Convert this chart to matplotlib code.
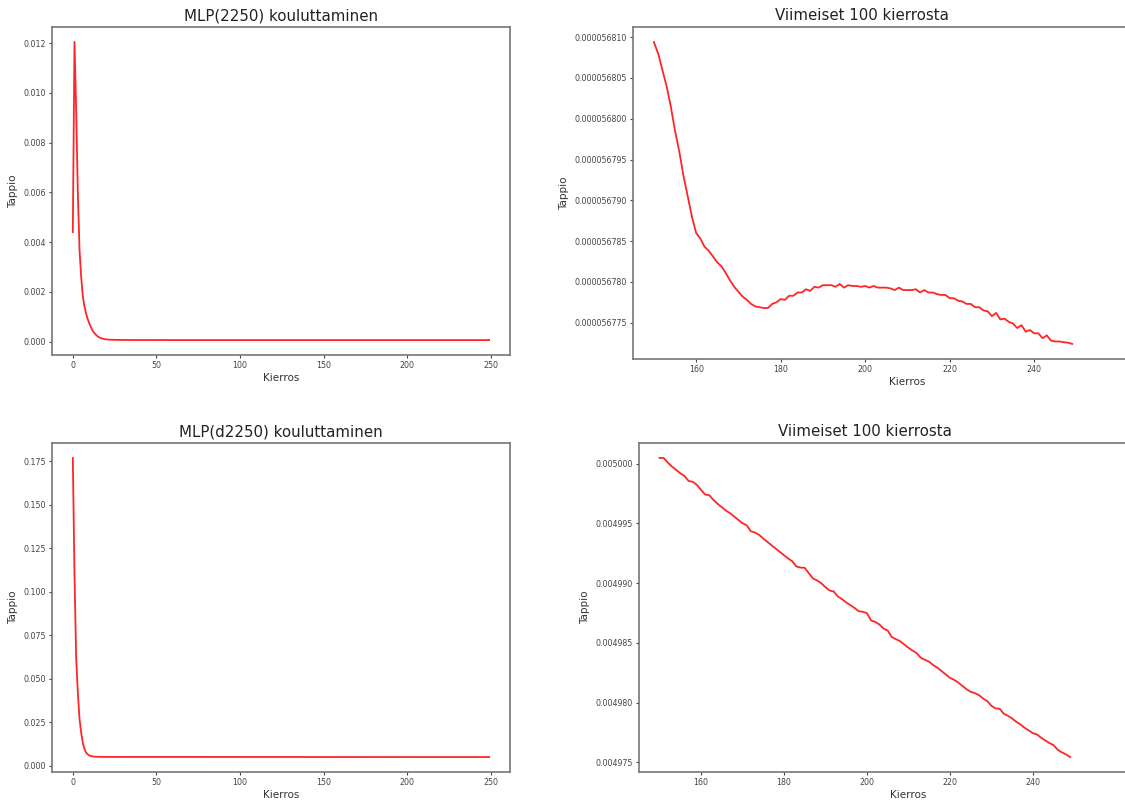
import matplotlib
matplotlib.use("Agg")
import matplotlib.pyplot as plt
from matplotlib.ticker import MultipleLocator, FormatStrFormatter

# MLP(2250): alkuvaihe + tasanne (luettu kuvasta)
early1_x = [0, 1, 2, 3, 4, 5, 6, 7, 8, 9, 10, 11, 12, 13, 14, 15, 16, 17, 18, 19, 20, 22,
            25, 30, 35, 40, 50, 60, 80, 100, 120, 140]
early1_y = [0.0044, 0.01205, 0.0093, 0.0060, 0.0037, 0.0026, 0.0018, 0.0014, 0.0011, 0.00088,
            0.00070, 0.00055, 0.00042, 0.00033, 0.00026, 0.00020, 0.00016, 0.00013, 0.00011,
            0.000095, 0.000085, 0.000073, 0.000066, 0.000061, 0.000059, 0.000058, 0.0000573,
            0.0000571, 0.00005695, 0.00005688, 0.00005684, 0.000056815]

# MLP(2250): viimeiset 100 kierrosta (150..249), yksikkö 1e-9
last1 = [56809.4, 56808.0, 56806.0, 56804.0, 56801.5, 56798.5, 56796.0, 56793.0, 56790.5, 56788.0,
         56786.0, 56785.3, 56784.3, 56783.8, 56783.1, 56782.4, 56781.9, 56781.1, 56780.2, 56779.4,
         56778.8, 56778.2, 56777.8, 56777.3, 56777.0, 56776.9, 56776.8, 56776.8, 56777.3, 56777.5,
         56777.9, 56777.8, 56778.3, 56778.3, 56778.7, 56778.7, 56779.1, 56778.9, 56779.4, 56779.3,
         56779.6, 56779.6, 56779.6, 56779.4, 56779.75, 56779.3, 56779.6, 56779.5, 56779.5, 56779.4,
         56779.5, 56779.3, 56779.5, 56779.3, 56779.3, 56779.3, 56779.2, 56779.0, 56779.3, 56779.0,
         56779.0, 56779.0, 56779.1, 56778.7, 56779.0, 56778.7, 56778.7, 56778.5, 56778.4, 56778.4,
         56778.0, 56778.0, 56777.7, 56777.6, 56777.3, 56777.3, 56776.9, 56776.9, 56776.5, 56776.4,
         56775.8, 56776.2, 56775.4, 56775.5, 56775.1, 56774.9, 56774.35, 56774.7, 56773.9, 56774.1,
         56773.7, 56773.7, 56773.1, 56773.45, 56772.8, 56772.7, 56772.7, 56772.6, 56772.55, 56772.4]

# MLP(d2250): alkuvaihe + tasanne
early2_x = [0, 1, 2, 3, 4, 5, 6, 7, 8, 9, 10, 11, 12, 13, 14, 15, 20, 30, 40, 60, 80, 100, 120, 140]
early2_y = [0.1770, 0.110, 0.062, 0.042, 0.027, 0.019, 0.013, 0.0095, 0.0075, 0.0065, 0.0058,
            0.0055, 0.0053, 0.0052, 0.00515, 0.0051, 0.00505, 0.005031, 0.005026, 0.005021,
            0.005016, 0.005011, 0.005006, 0.0050025]

# MLP(d2250): viimeiset 100 kierrosta (150..249), yksikkö 1e-6
last2 = [5000.47, 5000.47, 5000.08, 4999.75, 4999.47, 4999.19, 4998.97, 4998.55, 4998.47, 4998.22,
         4997.80, 4997.41, 4997.35, 4996.96, 4996.63, 4996.35, 4996.07, 4995.85, 4995.57, 4995.29,
         4995.01, 4994.84, 4994.34, 4994.23, 4994.04, 4993.73, 4993.45, 4993.17, 4992.89, 4992.61,
         4992.34, 4992.06, 4991.83, 4991.39, 4991.30, 4991.28, 4990.83, 4990.38, 4990.22, 4989.99,
         4989.66, 4989.38, 4989.30, 4988.88, 4988.66, 4988.38, 4988.16, 4987.93, 4987.65, 4987.60,
         4987.49, 4986.87, 4986.76, 4986.54, 4986.20, 4986.04, 4985.48, 4985.31, 4985.14, 4984.87,
         4984.59, 4984.36, 4984.14, 4983.75, 4983.58, 4983.42, 4983.14, 4982.92, 4982.64, 4982.36,
         4982.08, 4981.91, 4981.69, 4981.41, 4981.13, 4980.91, 4980.80, 4980.63, 4980.35, 4980.13,
         4979.74, 4979.52, 4979.49, 4979.07, 4978.90, 4978.68, 4978.40, 4978.18, 4977.90, 4977.68,
         4977.45, 4977.34, 4977.06, 4976.84, 4976.62, 4976.45, 4976.06, 4975.84, 4975.67, 4975.45]

last_x = list(range(150, 250))
last1_y = [v * 1e-9 for v in last1]
last2_y = [v * 1e-6 for v in last2]
zoom_ticks = [160, 180, 200, 220, 240]

titles = ["MLP(2250) kouluttaminen", "Viimeiset 100 kierrosta",
          "MLP(d2250) kouluttaminen", "Viimeiset 100 kierrosta"]

W, H = 1125, 801
fig = plt.figure(figsize=(W / 100, H / 100), dpi=100)

def box(l, t, r, b):
    return [l / W, (H - b) / H, (r - l) / W, (b - t) / H]

def style(ax, title, tx=0.5):
    ax.set_title(title, fontsize=10.8, color='#222222', pad=5, x=tx)
    ax.set_xlabel("Kierros", fontsize=7.5, color='#333333', labelpad=2)
    ax.set_ylabel("Tappio", fontsize=7.5, color='#333333', labelpad=4)
    ax.tick_params(labelsize=5.7, colors='#444444', length=2.5, width=0.8, pad=2)
    for s in ax.spines.values():
        s.set_color('#777777')
        s.set_linewidth(1.2)

line_kw = dict(color='#ff2525', linewidth=1.3)

ax1 = fig.add_axes(box(52, 27, 510, 355))
ax1.plot(early1_x + last_x, early1_y + last1_y, **line_kw)
ax1.yaxis.set_major_locator(MultipleLocator(0.002))
ax1.xaxis.set_major_locator(MultipleLocator(50))
ax1.yaxis.set_major_formatter(FormatStrFormatter('%.3f'))
style(ax1, titles[0])

ax2 = fig.add_axes(box(633, 27, 1182, 359))
ax2.plot(last_x, last1_y, **line_kw)
ax2.set_xlim(145.05, 275)
ax2.set_xticks(zoom_ticks)
ax2.yaxis.set_major_locator(MultipleLocator(5e-9))
ax2.yaxis.set_major_formatter(FormatStrFormatter('%.9f'))
style(ax2, titles[1], tx=(862 - 633) / (1182 - 633))

ax3 = fig.add_axes(box(52, 443, 510, 772))
ax3.plot(early2_x + last_x, early2_y + last2_y, **line_kw)
ax3.yaxis.set_major_locator(MultipleLocator(0.025))
ax3.xaxis.set_major_locator(MultipleLocator(50))
ax3.yaxis.set_major_formatter(FormatStrFormatter('%.3f'))
style(ax3, titles[2])

ax4 = fig.add_axes(box(639, 443, 1178, 772))
ax4.plot(last_x, last2_y, **line_kw)
ax4.set_xlim(145.05, 275)
ax4.set_xticks(zoom_ticks)
ax4.yaxis.set_major_locator(MultipleLocator(5e-6))
ax4.yaxis.set_major_formatter(FormatStrFormatter('%.6f'))
style(ax4, titles[3], tx=(865 - 639) / (1178 - 639))

fig.savefig("out.png", dpi=100)
